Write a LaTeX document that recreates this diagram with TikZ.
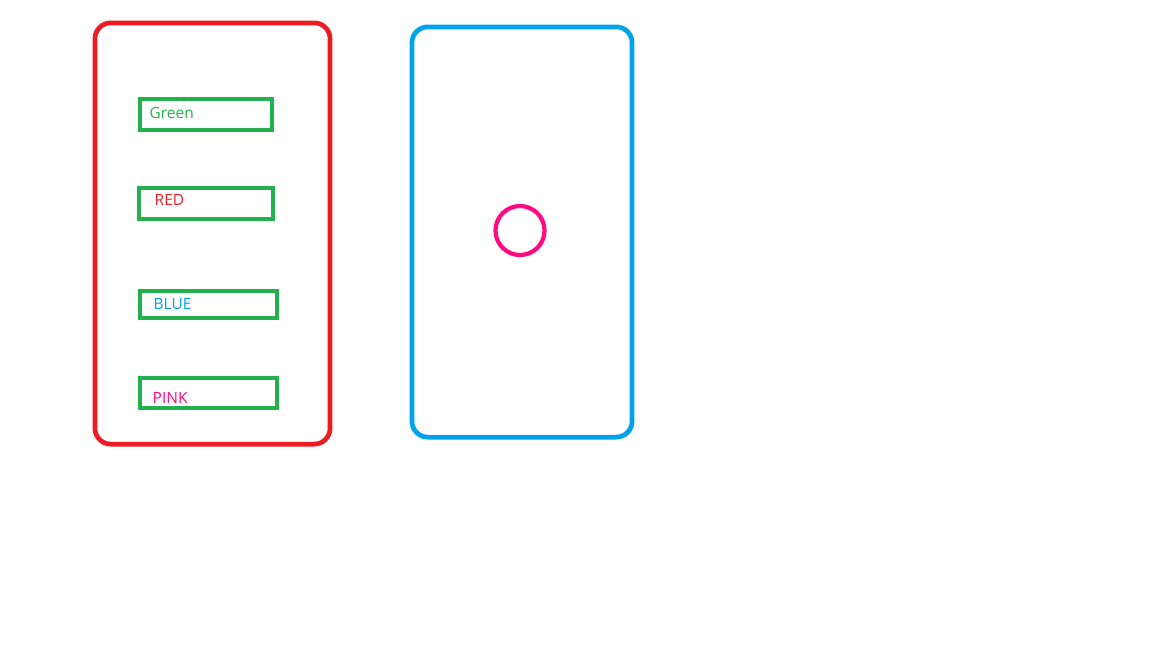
\documentclass[tikz,border=0pt]{standalone}
\usepackage{fontspec}
\setsansfont{Open Sans}
\definecolor{paintred}{HTML}{ED1C24}
\definecolor{paintgreen}{HTML}{22B14C}
\definecolor{paintblue}{HTML}{00A2E8}
\definecolor{paintpink}{HTML}{FF0A84}
\tikzset{
  panel/.style={draw, line width=1.35pt, rounded corners=4.5pt},
  colorbox/.style={draw=paintgreen, line width=1.25pt, inner sep=0pt},
  boxtext/.style={anchor=west, inner sep=0pt, font=\sffamily\fontsize{4.4}{5}\selectfont}
}
\begin{document}
\begin{tikzpicture}[x=0.01cm, y=-0.01cm]
  \useasboundingbox (0,0) rectangle (1152,648);
  % left panel with the colour names
  \node[panel, draw=paintred, minimum width=2.35cm, minimum height=4.21cm] (names) at (212.5,233.5) {};
  \node[colorbox, minimum width=1.32cm, minimum height=0.31cm] (greenbox) at (206,114.5) {};
  \node[colorbox, minimum width=1.34cm, minimum height=0.31cm] (redbox) at (206,203.5) {};
  \node[colorbox, minimum width=1.37cm, minimum height=0.27cm] (bluebox) at (208.5,304.5) {};
  \node[colorbox, minimum width=1.37cm, minimum height=0.30cm] (pinkbox) at (208.5,393) {};
  \node[boxtext, text=paintgreen] (greenname) at (149,112.5) {Green};
  \node[boxtext, text=paintred] (redname) at (154,200) {RED};
  \node[boxtext, text=paintblue] (bluename) at (153,304.5) {BLUE};
  \node[boxtext, text=paintpink] (pinkname) at (152,398) {PINK};
  % right panel
  \node[panel, draw=paintblue, minimum width=2.20cm, minimum height=4.10cm] (preview) at (522,232) {};
  \node[circle, draw=paintpink, line width=1.2pt, minimum size=0.49cm, inner sep=0pt] (dot) at (520,230.5) {};
\end{tikzpicture}
\end{document}
